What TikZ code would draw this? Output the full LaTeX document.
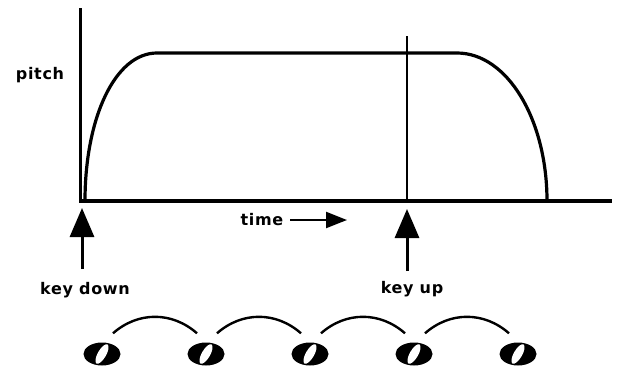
\documentclass[tikz,border=0pt]{standalone}
\usepackage{fontspec}
\newfontfamily\chicago{DejaVu Sans}[LetterSpace=4]
\usepackage{tikz}
\usetikzlibrary{arrows.meta,positioning,shapes.geometric}

\begin{document}
\begin{tikzpicture}[
x=1pt,
y=-1pt,
every node/.style={font=\chicago\bfseries\fontsize{16}{18}\selectfont},
axis/.style={line width=3.2pt},
curve/.style={line width=3.2pt},
marker/.style={line width=1.4pt},
keyarr/.style={-{Triangle[length=29pt,width=24pt]},line width=3pt},
timearr/.style={-{Triangle[length=21pt,width=16pt]},line width=2.2pt,shorten <=6pt},
lbl/.style={inner sep=1pt},
note/.style={ellipse,fill=black,minimum width=37pt,minimum height=23pt,inner sep=0pt,
  path picture={\pgfsetfillcolor{white}
    \pgfpathellipse{\pgfpointanchor{path picture bounding box}{center}}{\pgfpointpolar{60}{11pt}}{\pgfpointpolar{150}{4.2pt}}
    \pgfusepath{fill}}},
slur/.style={line width=2.4pt}
]
\useasboundingbox (0,0) rectangle (618,367);

% axes
\coordinate (ytop) at (80.5,8);
\coordinate (origin) at (80.5,201);
\coordinate (xend) at (612,201);
\draw[axis] (ytop) -- (origin) -- (xend);

% pitch envelope
\coordinate (attack) at (85,201);
\coordinate (sustain) at (157,53);
\coordinate (release) at (457,53);
\coordinate (stop) at (547,201);
\draw[curve] (attack) .. controls (85,118) and (115,53) .. (sustain) -- (release)
  .. controls (507,53) and (547,119) .. (stop);

% key up marker
\coordinate (marktop) at (407,36);
\coordinate (markbot) at (407,201);
\draw[marker] (marktop) -- (markbot);

% labels
\node[lbl] (pitch) at (40,75) {pitch};
\node[lbl] (time) at (262,220) {time};
\node[lbl] (keydown) at (85,290) {key down};
\node[lbl] (keyup) at (412,289) {key up};

% arrows
\coordinate (downtail) at (82,269);
\coordinate (downtip) at (82,208);
\coordinate (uptail) at (407,271);
\coordinate (uptip) at (407,209);
\coordinate (timetip) at (347,220);
\draw[keyarr] (downtail) -- (downtip);
\draw[keyarr] (uptail) -- (uptip);
\draw[timearr] (time.east) -- (timetip);

% notes and slurs
\foreach \i/\x in {1/102,2/206,3/310,4/414,5/518}
  \node[note] (n\i) at (\x,354) {};
\foreach \i/\j in {1/2,2/3,3/4,4/5}
  \draw[slur] ([shift={(11,-9)}]n\i.north) .. controls +(25,-22) and +(-25,-22) .. ([shift={(-9,-9)}]n\j.north);
\end{tikzpicture}
\end{document}
